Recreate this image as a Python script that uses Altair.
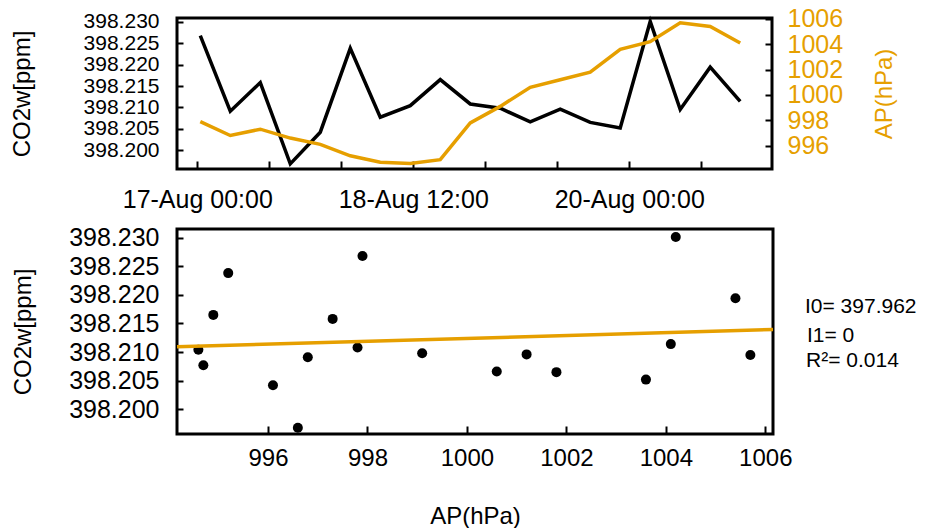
import altair as alt
import pandas as pd

# Samples every 5 hours, 17-20 Aug
times = [
    "2015-08-17T00:30:00Z", "2015-08-17T05:30:00Z", "2015-08-17T10:30:00Z",
    "2015-08-17T15:30:00Z", "2015-08-17T20:30:00Z", "2015-08-18T01:30:00Z",
    "2015-08-18T06:30:00Z", "2015-08-18T11:30:00Z", "2015-08-18T16:30:00Z",
    "2015-08-18T21:30:00Z", "2015-08-19T02:30:00Z", "2015-08-19T07:30:00Z",
    "2015-08-19T12:30:00Z", "2015-08-19T17:30:00Z", "2015-08-19T22:30:00Z",
    "2015-08-20T03:30:00Z", "2015-08-20T08:30:00Z", "2015-08-20T13:30:00Z",
    "2015-08-20T18:30:00Z",
]
co2w = [
    398.2268, 398.2091, 398.2158, 398.1968, 398.2042, 398.2238, 398.2077,
    398.2104, 398.2165, 398.2108, 398.2098, 398.2066, 398.2096, 398.2065,
    398.2052, 398.2301, 398.2095, 398.2194, 398.2114,
]
ap = [
    997.9, 996.8, 997.3, 996.6, 996.1, 995.2, 994.7, 994.6, 994.9, 997.8,
    999.1, 1000.6, 1001.2, 1001.8, 1003.6, 1004.2, 1005.7, 1005.4, 1004.1,
]

# Linear fit CO2w = I0 + I1 * AP
I0 = 397.962
I1 = 0.0002504
R2 = 0.014

co2_ticks = [398.200, 398.205, 398.210, 398.215, 398.220, 398.225, 398.230]
ap_ticks_right = [996, 998, 1000, 1002, 1004, 1006]
ap_ticks_bottom = [996, 998, 1000, 1002, 1004, 1006]

ORANGE = "#E69F00"
FONT = "Liberation Sans"

df = pd.DataFrame({"time": times, "CO2w": co2w, "AP": ap})

# ---------------- time series panel ----------------
t0_ms = int(pd.Timestamp("2015-08-17T00:00:00Z").value // 10**6)
t_lo = alt.DateTime(year=2015, month=8, date=16, hours=20, minutes=37, utc=True)
t_hi = alt.DateTime(year=2015, month=8, date=20, hours=23, minutes=48, utc=True)
tick_times = [alt.DateTime(year=2015, month=8, date=d, hours=h, utc=True)
              for d in (17, 18, 19, 20) for h in (0, 12)]

x_time = alt.X(
    "time:T",
    scale=alt.Scale(type="utc", domain=[t_lo, t_hi], nice=False),
    axis=alt.Axis(
        values=tick_times,
        labelExpr=(f"(datum.value - {t0_ms}) % {36 * 3600000} === 0 ? "
                   "utcFormat(datum.value, '%d-%b %H:%M') : ''"),
        title=None, grid=False, domain=False, offset=-8, tickSize=8,
        labelPadding=18, labelFontSize=25, labelFlush=False, labelOverlap=False,
    ),
)

co2_line = alt.Chart(df).mark_line(color="black", strokeWidth=3.5).encode(
    x=x_time,
    y=alt.Y(
        "CO2w:Q",
        scale=alt.Scale(domain=[398.1956, 398.2309], nice=False, zero=False),
        axis=alt.Axis(
            orient="left", values=co2_ticks, format=".3f", title="CO2w[ppm]",
            grid=False, domain=False, offset=-6, tickSize=6, labelPadding=18,
            labelFontSize=21, titleFontSize=24, titleX=-161,
            titleBaseline="middle", labelOverlap=False,
        ),
    ),
)

ap_line = alt.Chart(df).mark_line(color=ORANGE, strokeWidth=3.5).encode(
    x=x_time,
    y=alt.Y(
        "AP:Q",
        scale=alt.Scale(domain=[994.16, 1006.07], nice=False, zero=False),
        axis=alt.Axis(
            orient="right", values=ap_ticks_right, format="d", title="AP(hPa)",
            grid=False, domain=False, offset=-7, tickSize=7, labelPadding=15,
            labelFontSize=25, titleFontSize=24, labelColor=ORANGE,
            titleColor=ORANGE, titleAngle=270, titleX=119,
            titleBaseline="middle", labelOverlap=False,
        ),
    ),
)

top = alt.layer(co2_line, ap_line).resolve_scale(y="independent").properties(
    width=595, height=151
)

# ---------------- scatter + fit panel ----------------
ap_lo, ap_hi = 994.17, 1006.155
fit_df = pd.DataFrame({"AP": [ap_lo, ap_hi],
                       "CO2w": [I0 + I1 * ap_lo, I0 + I1 * ap_hi]})

x_ap = alt.X(
    "AP:Q",
    scale=alt.Scale(domain=[ap_lo, ap_hi], nice=False, zero=False),
    axis=alt.Axis(
        values=ap_ticks_bottom, format="d", title="AP(hPa)", grid=False,
        domain=False, offset=-8, tickSize=8, labelPadding=12, titlePadding=34,
        labelFontSize=24, titleFontSize=24, labelFlush=False,
        labelOverlap=False,
    ),
)
y_co2 = alt.Y(
    "CO2w:Q",
    scale=alt.Scale(domain=[398.1957, 398.2315], nice=False, zero=False),
    axis=alt.Axis(
        values=co2_ticks, format=".3f", title="CO2w[ppm]", grid=False,
        domain=False, offset=-6, tickSize=6, labelPadding=18,
        labelFontSize=25, titleFontSize=24, titleX=-160,
        titleBaseline="middle", labelOverlap=False,
    ),
)

points = alt.Chart(df).mark_circle(color="black", size=100, opacity=1).encode(
    x=x_ap, y=y_co2
)
fit = alt.Chart(fit_df).mark_line(color=ORANGE, strokeWidth=3.5).encode(
    x=x_ap, y=y_co2
)

stats = [f"I0= {I0:.3f}", f"I1= {I1:.0f}", f"R\u00b2= {R2:.3f}"]
stat_x = [628, 630, 629]
stat_y = [78, 107, 132]
stat_layers = [
    alt.Chart(pd.DataFrame({"t": [s]})).mark_text(
        align="left", baseline="middle", fontSize=21, font=FONT, color="black"
    ).encode(text="t:N", x=alt.value(xp), y=alt.value(yp))
    for s, xp, yp in zip(stats, stat_x, stat_y)
]

bottom = alt.layer(points, fit, *stat_layers).properties(width=596, height=205)

chart = (
    alt.vconcat(top, bottom, spacing=10)
    .properties(padding={"left": 8, "top": 5, "right": 0, "bottom": 0})
    .configure_view(stroke="black", strokeWidth=3)
    .configure_axis(
        labelFont=FONT, titleFont=FONT, titleFontWeight="normal",
        labelColor="black", titleColor="black", tickColor="black",
        tickWidth=2,
    )
)

chart.save("out.html", embed_options={"renderer": "svg", "actions": False})
